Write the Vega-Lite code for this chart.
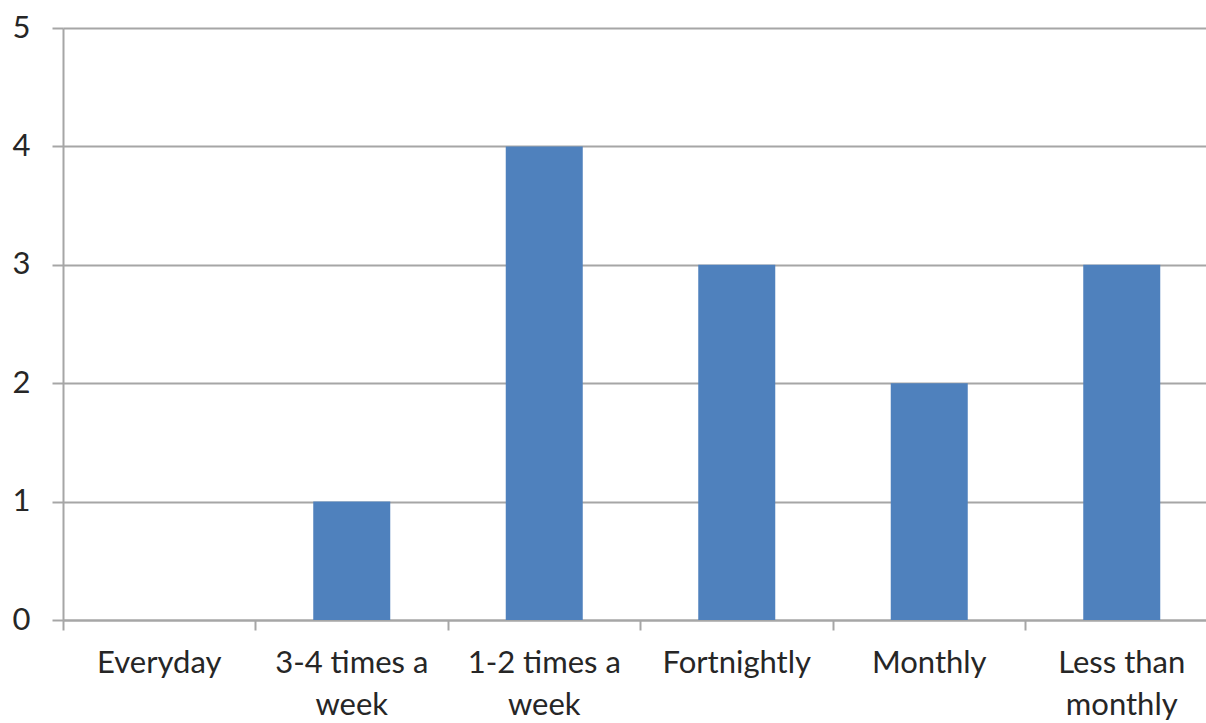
{
  "$schema": "https://vega.github.io/schema/vega-lite/v6.json",
  "autosize": {"type": "none"},
  "padding": {"left": 63, "top": 28, "right": 0, "bottom": 103},
  "width": 1155,
  "height": 592,
  "background": "white",
  "config": {
    "view": {"stroke": null},
    "font": "Lato"
  },
  "data": {
    "values": [
      {"frequency": "Everyday", "count": 0},
      {"frequency": "3-4 times a week", "count": 1},
      {"frequency": "1-2 times a week", "count": 4},
      {"frequency": "Fortnightly", "count": 3},
      {"frequency": "Monthly", "count": 2},
      {"frequency": "Less than monthly", "count": 3}
    ]
  },
  "mark": {"type": "bar", "color": "#4F81BD", "width": {"band": 0.4}},
  "encoding": {
    "x": {
      "field": "frequency",
      "type": "nominal",
      "sort": null,
      "scale": {"paddingInner": 0, "paddingOuter": 0},
      "axis": {
        "title": null,
        "labelAngle": 0,
        "bandPosition": 0,
        "labelFont": "Lato",
        "labelFontSize": 31,
        "labelColor": "#262626",
        "labelLineHeight": 42,
        "labelPadding": 18,
        "labelBaseline": "top",
        "labelExpr": "datum.value == '3-4 times a week' ? ['3-4 times a','week'] : datum.value == '1-2 times a week' ? ['1-2 times a','week'] : datum.value == 'Less than monthly' ? ['Less than','monthly'] : datum.value",
        "tickSize": 10,
        "tickColor": "#A6A6A6",
        "tickWidth": 2,
        "domainColor": "#A6A6A6",
        "domainWidth": 2,
        "grid": false
      }
    },
    "y": {
      "field": "count",
      "type": "quantitative",
      "scale": {"domain": [0, 5], "nice": false},
      "axis": {
        "title": null,
        "values": [0, 1, 2, 3, 4, 5],
        "labelFont": "Lato",
        "labelFontSize": 31,
        "labelColor": "#262626",
        "labelPadding": 22,
        "tickSize": 11,
        "tickColor": "#A6A6A6",
        "tickWidth": 2,
        "domainColor": "#A6A6A6",
        "domainWidth": 2,
        "grid": true,
        "gridColor": "#A6A6A6",
        "gridWidth": 2
      }
    }
  }
}
